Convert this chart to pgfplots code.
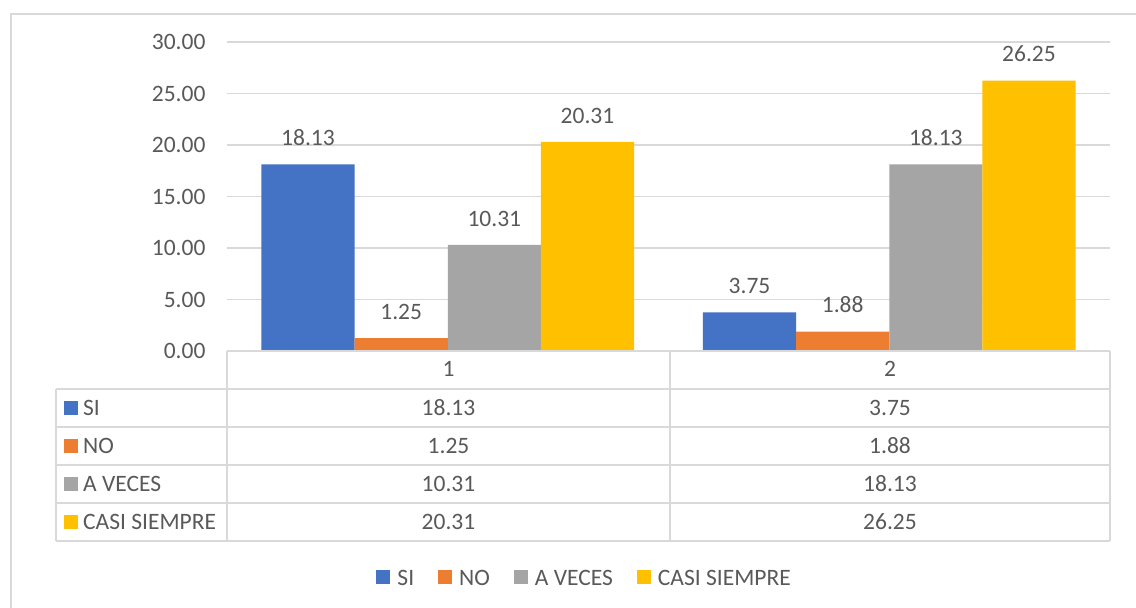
\documentclass[border=0pt]{standalone}
\usepackage{fontspec}
\setmainfont{Carlito}
\usepackage{pgfplots}
\pgfplotsset{compat=1.18}
\definecolor{cSI}{HTML}{4472C4}
\definecolor{cNO}{HTML}{ED7D31}
\definecolor{cAV}{HTML}{A5A5A5}
\definecolor{cCS}{HTML}{FFC000}
\definecolor{txt}{HTML}{595959}
\definecolor{grd}{HTML}{D9D9D9}
\newcommand{\fs}{\fontsize{23.5}{28}\selectfont}
\begin{document}
\begin{tikzpicture}[x=1pt,y=1pt]
\useasboundingbox (0,0) rectangle (1136,608);
\fill[white] (0,0) rectangle (1136,608);
\draw[grd, line width=1.5pt] (11,0) -- (11,594) -- (1136,594);
\begin{axis}[
  at={(227pt,257pt)}, anchor=south west,
  scale only axis, width=883pt, height=309pt,
  xmin=0.5, xmax=2.5, ymin=0, ymax=30,
  axis line style={draw=none},
  ytick={0,5,...,30},
  xtick=\empty,
  ymajorgrids, grid style={grd, line width=1.2pt},
  major tick length=0pt,
  yticklabel style={font=\fs, text=txt, xshift=-18pt},
  /pgf/number format/fixed,
  /pgf/number format/fixed zerofill,
  /pgf/number format/precision=2,
  /pgf/number format/assume math mode=true,
  ybar, bar width=0.211,
  nodes near coords,
  nodes near coords style={font=\fs, text=txt, yshift=15pt},
  legend style={at={(0.405,-0.736)}, anchor=center, draw=none, fill=none,
    legend columns=-1, font=\fs, text=txt,
    /tikz/every even column/.append style={column sep=22pt}},
  legend image code/.code={\draw[#1,draw=none] (0pt,-6pt) rectangle (14pt,8pt); \path (19pt,1pt);},
]
\addplot[fill=cSI, draw=none, bar shift=-0.3165] coordinates {(1,18.13) (2,3.75)};
\addlegendentry{SI}
\addplot[fill=cNO, draw=none, bar shift=-0.1055] coordinates {(1,1.25) (2,1.88)};
\addlegendentry{NO}
\addplot[fill=cAV, draw=none, bar shift=0.1055] coordinates {(1,10.31) (2,18.13)};
\addlegendentry{A VECES}
\addplot[fill=cCS, draw=none, bar shift=0.3165] coordinates {(1,20.31) (2,26.25)};
\addlegendentry{CASI SIEMPRE}
\end{axis}
% data table
\begin{scope}[grd, line width=1.5pt]
\draw (227,257) -- (1110,257);
\foreach \y in {219,181,143,105,67} \draw (56,\y) -- (1110,\y);
\draw (56,219) -- (56,67);
\draw (227,257) -- (227,67);
\draw (670,257) -- (670,67);
\draw (1110,257) -- (1110,67);
\end{scope}
\begin{scope}[every node/.style={font=\fs, text=txt, inner sep=0pt}]
\node at (448.5,239) {1};
\node at (890,239) {2};
\fill[cSI] (64,193) rectangle (78,207);
\node[anchor=west] at (83,200) {SI};
\node at (448.5,200) {18.13};
\node at (890,200) {3.75};
\fill[cNO] (64,155) rectangle (78,169);
\node[anchor=west] at (83,162) {NO};
\node at (448.5,162) {1.25};
\node at (890,162) {1.88};
\fill[cAV] (64,117) rectangle (78,131);
\node[anchor=west] at (83,124) {A VECES};
\node at (448.5,124) {10.31};
\node at (890,124) {18.13};
\fill[cCS] (64,79) rectangle (78,93);
\node[anchor=west] at (83,86) {CASI SIEMPRE};
\node at (448.5,86) {20.31};
\node at (890,86) {26.25};
\end{scope}
\end{tikzpicture}
\end{document}
